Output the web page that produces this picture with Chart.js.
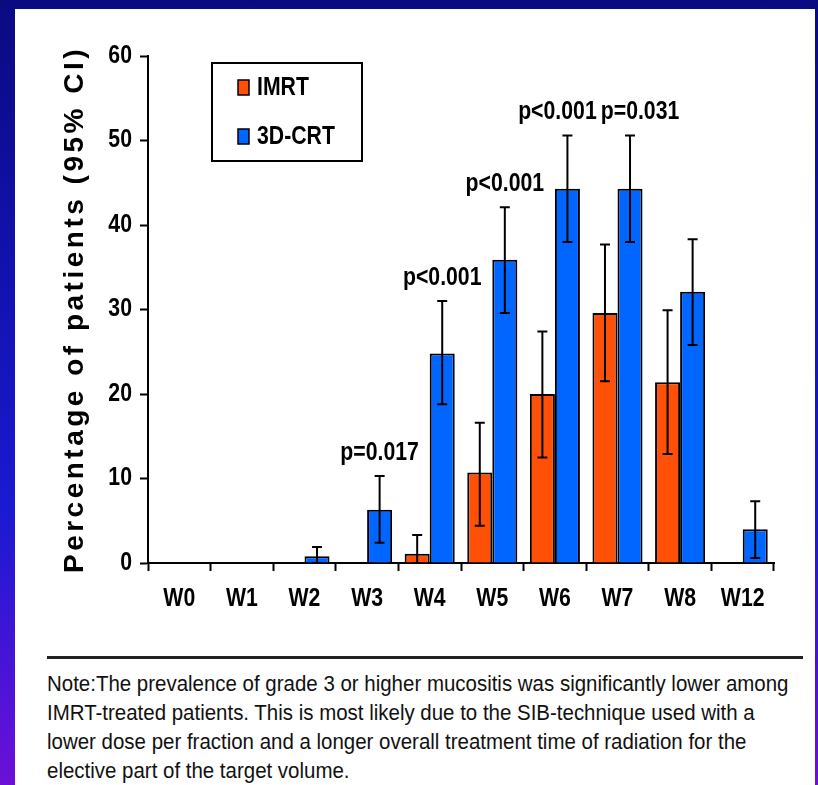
<!DOCTYPE html>
<html>
<head>
<meta charset="utf-8">
<script src="https://cdn.jsdelivr.net/npm/chart.js@4.4.1/dist/chart.umd.min.js"></script>
<style>
  html, body { margin: 0; padding: 0; }
  body {
    width: 818px; height: 785px; overflow: hidden; position: relative;
    background: linear-gradient(to bottom, #0a0a80 0%, #1212b0 35%, #1a1ad0 65%, #6c10d8 100%);
  }
  #panel { position: absolute; left: 15px; top: 9px; width: 800px; height: 776px; background: #fff; }
  #wrap { position: absolute; left: 0; top: 0; width: 800px; height: 640px; }
  #rule { position: absolute; left: 32px; top: 647px; width: 756px; height: 3px; background: #222; }
  #note {
    position: absolute; left: 32px; top: 660px; width: 800px;
    font: 22px "Liberation Sans", Arial, sans-serif;
    line-height: 29px; color: #111; white-space: nowrap;
    transform: scaleX(0.93); transform-origin: left top;
  }
</style>
</head>
<body>
<div id="panel">
  <div id="wrap"><canvas id="mucositisChart"></canvas></div>
  <div id="rule"></div>
  <div id="note">Note:The prevalence of grade 3 or higher mucositis was significantly lower among<br>IMRT-treated patients. This is most likely due to the SIB-technique used with a<br>lower dose per fraction and a longer overall treatment time of radiation for the<br>elective part of the target volume.</div>
</div>
<script>
const weeks = ["W0", "W1", "W2", "W3", "W4", "W5", "W6", "W7", "W8", "W12"];

const imrt = [0, 0, 0, 0, 1.1, 10.7, 20.0, 29.6, 21.4, 0];
const imrtLow = [null, null, null, null, 0, 4.4, 12.5, 21.5, 12.9, null];
const imrtHigh = [null, null, null, null, 3.3, 16.6, 27.4, 37.7, 29.9, null];

const crt = [0, 0, 0.8, 6.3, 24.8, 35.9, 44.3, 44.3, 32.1, 4.0];
const crtLow = [null, null, 0, 2.4, 18.8, 29.6, 38.0, 38.0, 25.8, 0.6];
const crtHigh = [null, null, 1.9, 10.3, 31.0, 42.1, 50.6, 50.6, 38.3, 7.3];

const pValues = ["", "", "", "p=0.017", "p<0.001", "p<0.001", "p<0.001", "p=0.031", "", ""];

const yTicks = [0, 10, 20, 30, 40, 50, 60];

const FAMILY = '"Liberation Sans", Arial, sans-serif';
const BOLD25 = { family: FAMILY, size: 25, weight: "bold" };

// no narrow face installed, so squeeze canvas text horizontally
const condense = {
  id: "condense",
  beforeInit(chart) {
    const ctx = chart.ctx;
    const fill = CanvasRenderingContext2D.prototype.fillText;
    ctx.fillText = function (text, x, y) {
      if (ctx._wide) return fill.call(ctx, text, x, y);
      ctx.save();
      ctx.translate(x, y);
      ctx.scale(0.85, 1);
      fill.call(ctx, text, 0, 0);
      ctx.restore();
    };
  },
};

// confidence interval whiskers
const errorBars = {
  id: "errorBars",
  afterDatasetsDraw(chart) {
    const ctx = chart.ctx;
    const y = chart.scales.y;
    ctx.save();
    ctx.strokeStyle = "#000";
    ctx.lineWidth = 2;
    chart.data.datasets.forEach((ds, di) => {
      const meta = chart.getDatasetMeta(di);
      meta.data.forEach((bar, i) => {
        if (ds.high[i] == null) return;
        const top = y.getPixelForValue(ds.high[i]);
        const bot = y.getPixelForValue(ds.low[i]);
        ctx.beginPath();
        ctx.moveTo(bar.x, top);
        ctx.lineTo(bar.x, bot);
        ctx.moveTo(bar.x - 5, top);
        ctx.lineTo(bar.x + 5, top);
        ctx.moveTo(bar.x - 5, bot);
        ctx.lineTo(bar.x + 5, bot);
        ctx.stroke();
      });
    });
    ctx.restore();
  },
};

// p-value labels above the 3D-CRT whiskers
const pLabels = {
  id: "pLabels",
  afterDatasetsDraw(chart) {
    const ctx = chart.ctx;
    const y = chart.scales.y;
    const blue = chart.getDatasetMeta(1);
    const nudge = { W6: -10, W7: 10 };
    ctx.save();
    ctx.font = "bold 25px " + FAMILY;
    ctx.fillStyle = "#000";
    ctx.textAlign = "center";
    ctx.textBaseline = "middle";
    pValues.forEach((txt, i) => {
      if (!txt) return;
      const bar = blue.data[i];
      const top = y.getPixelForValue(crtHigh[i]);
      ctx.fillText(txt, bar.x + (nudge[weeks[i]] || 0), top - 23);
    });
    ctx.restore();
  },
};

// boxed legend inside the plot
const boxLegend = {
  id: "boxLegend",
  afterDraw(chart) {
    const ctx = chart.ctx;
    const box = { x: 197, y: 54, w: 150, h: 98 };
    ctx.save();
    ctx.strokeStyle = "#000";
    ctx.lineWidth = 2;
    ctx.strokeRect(box.x, box.y, box.w, box.h);
    ctx.font = "bold 25px " + FAMILY;
    ctx.textBaseline = "middle";
    chart.data.datasets.forEach((ds, i) => {
      const cy = box.y + 24 + i * 49;
      ctx.fillStyle = ds.backgroundColor;
      ctx.fillRect(box.x + 26, cy - 7, 11, 15);
      ctx.lineWidth = 1.5;
      ctx.strokeRect(box.x + 26, cy - 7, 11, 15);
      ctx.fillStyle = "#000";
      ctx.fillText(ds.label, box.x + 45, cy + 1);
    });
    ctx.restore();
  },
};

// spaced-out, full width y axis title
const spacedTitle = {
  id: "spacedTitle",
  beforeDraw(chart) {
    const s = chart.scales.y;
    if (s._spaced) return;
    const orig = s.drawTitle;
    s.drawTitle = function () {
      const ctx = this.ctx;
      ctx.save();
      ctx._wide = true;
      ctx.letterSpacing = "3.5px";
      orig.apply(this, arguments);
      ctx._wide = false;
      ctx.restore();
    };
    s._spaced = true;
  },
};

new Chart(document.getElementById("mucositisChart"), {
  type: "bar",
  data: {
    labels: weeks,
    datasets: [
      {
        label: "IMRT",
        data: imrt,
        low: imrtLow,
        high: imrtHigh,
        backgroundColor: "#ff5008",
        borderColor: "#000",
        borderWidth: 2,
      },
      {
        label: "3D-CRT",
        data: crt,
        low: crtLow,
        high: crtHigh,
        backgroundColor: "#0066ff",
        borderColor: "#000",
        borderWidth: 2,
      },
    ],
  },
  options: {
    responsive: true,
    maintainAspectRatio: false,
    animation: false,
    categoryPercentage: 0.8,
    barPercentage: 1.0,
    layout: { padding: { left: 46, right: 41, top: 47, bottom: 0 } },
    plugins: {
      legend: { display: false },
      tooltip: { enabled: false },
    },
    scales: {
      x: {
        grid: { display: true, drawOnChartArea: false, tickLength: 8, tickColor: "#000", tickWidth: 2 },
        border: { display: true, color: "#000", width: 2 },
        ticks: { color: "#000", font: BOLD25, padding: 13, maxRotation: 0, autoSkip: false },
        afterFit(scale) { scale.height = 86; },
      },
      y: {
        min: 0,
        max: 60,
        afterBuildTicks(scale) { scale.ticks = yTicks.map((v) => ({ value: v })); },
        grid: { display: true, drawOnChartArea: false, tickLength: 8, tickColor: "#000", tickWidth: 2 },
        border: { display: true, color: "#000", width: 2 },
        ticks: { color: "#000", font: BOLD25, padding: 8 },
        title: {
          display: true,
          text: "Percentage of patients (95% CI)",
          color: "#000",
          font: { family: FAMILY, size: 28, weight: "bold", lineHeight: 1 },
          padding: 0,
        },
        afterFit(scale) { scale.width = 87; },
      },
    },
  },
  plugins: [condense, errorBars, pLabels, boxLegend, spacedTitle],
});
</script>
</body>
</html>
